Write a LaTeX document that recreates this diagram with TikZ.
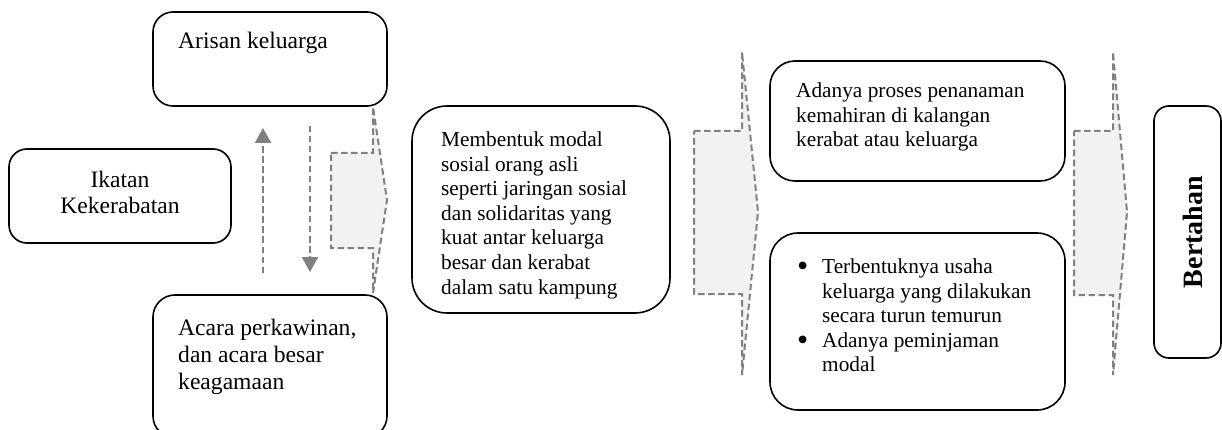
\documentclass[tikz,border=0pt]{standalone}
\usepackage{fontspec}
\setmainfont{Liberation Serif}
\usetikzlibrary{arrows.meta}
\newcommand\fsbig{\fontsize{23.6}{26.8}\selectfont}
\newcommand\fssmall{\fontsize{21.3}{24.6}\selectfont}
\newcommand\bigbullet{\llap{\raisebox{-3pt}{\fontsize{32}{32}\selectfont\textbullet}\hspace{14pt}}}
\begin{document}
\begin{tikzpicture}[x=1pt,y=-1pt,
  box/.style={draw,line width=1.6pt,inner sep=0pt},
  txt/.style={inner sep=0pt,align=left,anchor=north west},
  gline/.style={draw=black!50,line width=2pt,dash pattern=on 6.5pt off 3.5pt},
  gtip/.style={-{Triangle[width=16pt,length=15pt]}}]
\useasboundingbox(0,0)rectangle(1222,430);
\clip(0,0)rectangle(1222,430);
\foreach \xa/\xb/\ya/\yb/\yc/\yd/\xc/\yt in {331/373/153/248/107/293/387/200, 694/742/131/294/52/375/758/212, 1074/1113/131/295/52/375/1127/212}
  {\draw[gline,fill=black!5](\xa,\ya)--(\xb,\ya)--(\xb,\yc)--(\xc,\yt)--(\xb,\yd)--(\xb,\yb)--(\xa,\yb)--cycle;}
\node[box,rounded corners=18pt,minimum width=222pt,minimum height=94pt](ikatan)at(120,196){};
\node[box,rounded corners=20pt,minimum width=234pt,minimum height=94pt](arisan)at(270,59){};
\node[box,rounded corners=22pt,minimum width=234pt,minimum height=143pt](acara)at(270,366.5){};
\node[box,rounded corners=35pt,minimum width=258pt,minimum height=207pt](modal)at(541,209.5){};
\node[box,rounded corners=25pt,minimum width=295pt,minimum height=120pt](proses)at(917.5,121){};
\node[box,rounded corners=28pt,minimum width=295pt,minimum height=177pt](usaha)at(917.5,321.5){};
\node[box,rounded corners=15pt,minimum width=67pt,minimum height=252pt](bertahan)at(1187.5,232){};
\node[txt,anchor=center,align=center,font=\fsbig](ikatanT)at(120,192.5){Ikatan\\Kekerabatan};
\node[txt,font=\fsbig](arisanT)at(178,32){Arisan keluarga};
\node[txt,font=\fsbig](acaraT)at(178,319){Acara perkawinan,\\dan acara besar\\keagamaan};
\node[txt,font=\fssmall](modalT)at(441,131.5){Membentuk modal\\sosial orang asli\\seperti jaringan sosial\\dan solidaritas yang\\kuat antar keluarga\\besar dan kerabat\\dalam satu kampung};
\node[txt,font=\fssmall](prosesT)at(796,82.5){Adanya proses penanaman\\kemahiran di kalangan\\kerabat atau keluarga};
\node[txt,font=\fssmall](usahaT)at(822,258.5){\bigbullet Terbentuknya usaha\\keluarga yang dilakukan\\secara turun temurun\\\bigbullet Adanya peminjaman\\modal};
\node[inner sep=0pt,rotate=90,font=\bfseries\fontsize{28}{30}\selectfont](bertahanT)at(1193,232){Bertahan};
\coordinate(naik1)at(263,273);\coordinate(naik2)at(263,128);
\coordinate(turun1)at(310,126);\coordinate(turun2)at(310,272);
\draw[gline,gtip](naik1)--(naik2);
\draw[gline,gtip](turun1)--(turun2);
\end{tikzpicture}
\end{document}
